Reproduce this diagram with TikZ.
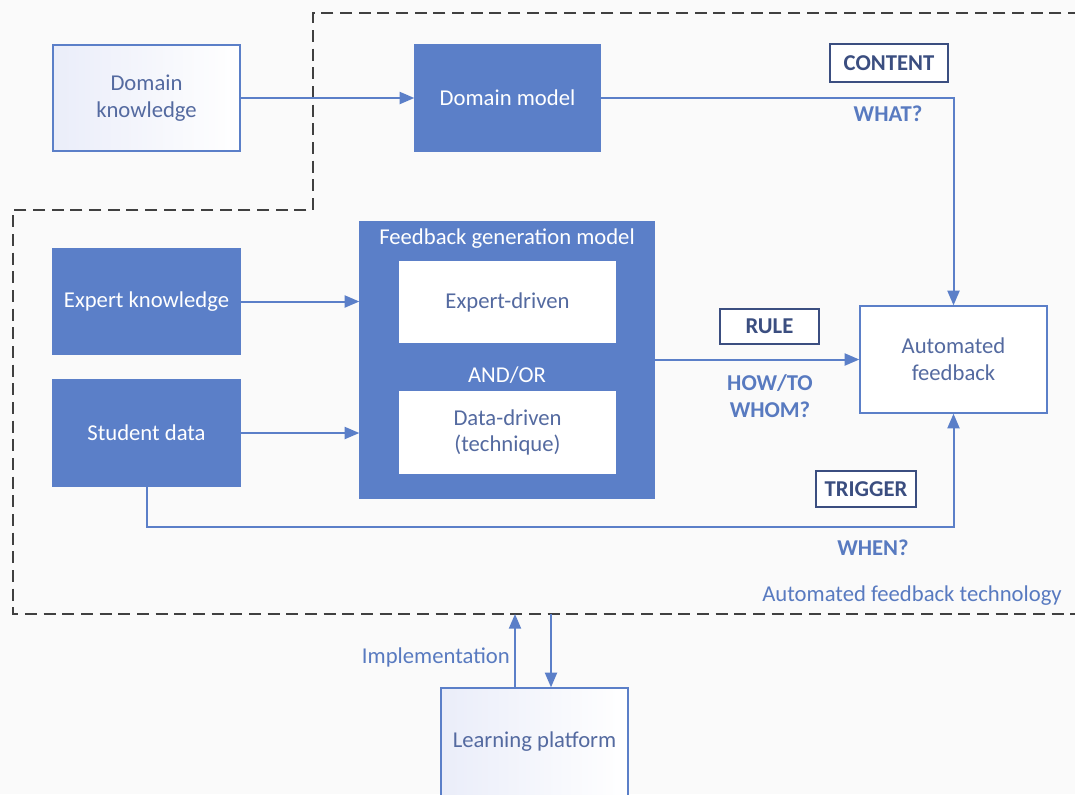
\documentclass[tikz,border=0pt]{standalone}
\usepackage{fontspec}
\setmainfont{Carlito}
\usetikzlibrary{arrows.meta}
\definecolor{boxblue}{RGB}{91,127,200}
\definecolor{txtblue}{RGB}{84,106,160}
\definecolor{darkblue}{RGB}{59,78,128}
\definecolor{lblblue}{RGB}{88,122,192}
\definecolor{dashgrey}{RGB}{64,64,64}
\definecolor{shade}{RGB}{234,237,249}
\begin{document}
\begin{tikzpicture}[x=0.75pt,y=-0.75pt,
  every node/.style={font=\fontsize{17}{20}\selectfont, align=center, inner sep=0pt},
  sz/.style 2 args={minimum width=#1*0.75pt, minimum height=#2*0.75pt},
  bluebox/.style={draw=boxblue, fill=boxblue, line width=1pt, text=white},
  whitebox/.style={draw=boxblue, fill=white, line width=1pt, text=txtblue},
  gradbox/.style={draw=boxblue, line width=1pt, text=txtblue, shading=axis, shading angle=135, left color=shade, right color=white},
  tagbox/.style={draw=darkblue, fill=white, line width=1pt, text=darkblue, font=\fontsize{17}{20}\selectfont\bfseries},
  lbl/.style={text=lblblue, font=\fontsize{17}{20.5}\selectfont\bfseries},
  conn/.style={draw=boxblue, line width=1.5pt},
  arr/.style={conn, -{Triangle[length=11pt,width=9pt]}},
  boundary/.style={draw=dashgrey, line width=1.6pt, dash pattern=on 9pt off 5pt}
]
\useasboundingbox (0,0) rectangle (1075,794);
\clip (0,0) rectangle (1075,794);
\fill[white!98!black] (0,0) rectangle (1075,794);

% boundary
\draw[boundary] (1080,13) -- (313,13) -- (313,210) -- (13,210) -- (13,614) -- (1080,614);

% nodes
\node[gradbox, sz={187}{106}] (dk) at (146.5,98) {Domain\\knowledge};
\node[bluebox, sz={185}{106}] (dm) at (507.5,98) {Domain model};
\node[bluebox, sz={187}{105}] (ek) at (146.5,301.5) {Expert knowledge};
\node[bluebox, sz={187}{106}] (sd) at (146.5,433) {Student data};
\node[bluebox, sz={294}{276}] (fgm) at (507,360) {};
\node[text=white] (fgmt) at (507,239) {Feedback generation model};
\node[whitebox, draw=white, sz={215}{80}] (exd) at (507.5,302) {Expert-driven};
\node[text=white] (andor) at (507,375) {AND/OR};
\node[whitebox, draw=white, sz={215}{81}] (dd) at (507.5,432.5) {Data-driven\\(technique)};
\node[whitebox, sz={187}{107}] (af) at (953.5,359.5) {Automated\\feedback};
\node[gradbox, sz={187}{110}] (lp) at (534.5,743) {};
\node[text=txtblue] (lpt) at (534.5,742) {Learning platform};

\node[tagbox, sz={118}{38}] (content) at (889,63) {CONTENT};
\node[tagbox, sz={99}{35}] (rule) at (769.5,326.5) {RULE};
\node[tagbox, sz={100}{36}] (trigger) at (866,489) {TRIGGER};

\node[lbl] (what) at (888,114) {WHAT?};
\node[lbl] (how) at (770,396) {HOW/TO\\WHOM?};
\node[lbl] (when) at (873,548) {WHEN?};
\node[text=lblblue] (aft) at (912,596) {Automated feedback technology};
\node[text=lblblue, anchor=east] (impl) at (510,657) {Implementation};

% connectors
\draw[arr] (dk.east) -- (dm.west);
\draw[arr] (dm.east) -- (af.north |- dm.east) -- (af.north);
\draw[arr] (ek.east) -- (ek.east -| fgm.west);
\draw[arr] (sd.east) -- (sd.east -| fgm.west);
\draw[arr] (fgm.east |- af.west) -- (af.west);
\coordinate (c1) at (146.5,527);
\draw[arr] (sd.south) -- (c1) -- (c1 -| af.south) -- (af.south);
\coordinate (b1) at (515,614);
\coordinate (b2) at (551,614);
\draw[arr] (lp.north -| b1) -- (b1);
\draw[arr] (b2) -- (lp.north -| b2);
\end{tikzpicture}
\end{document}
